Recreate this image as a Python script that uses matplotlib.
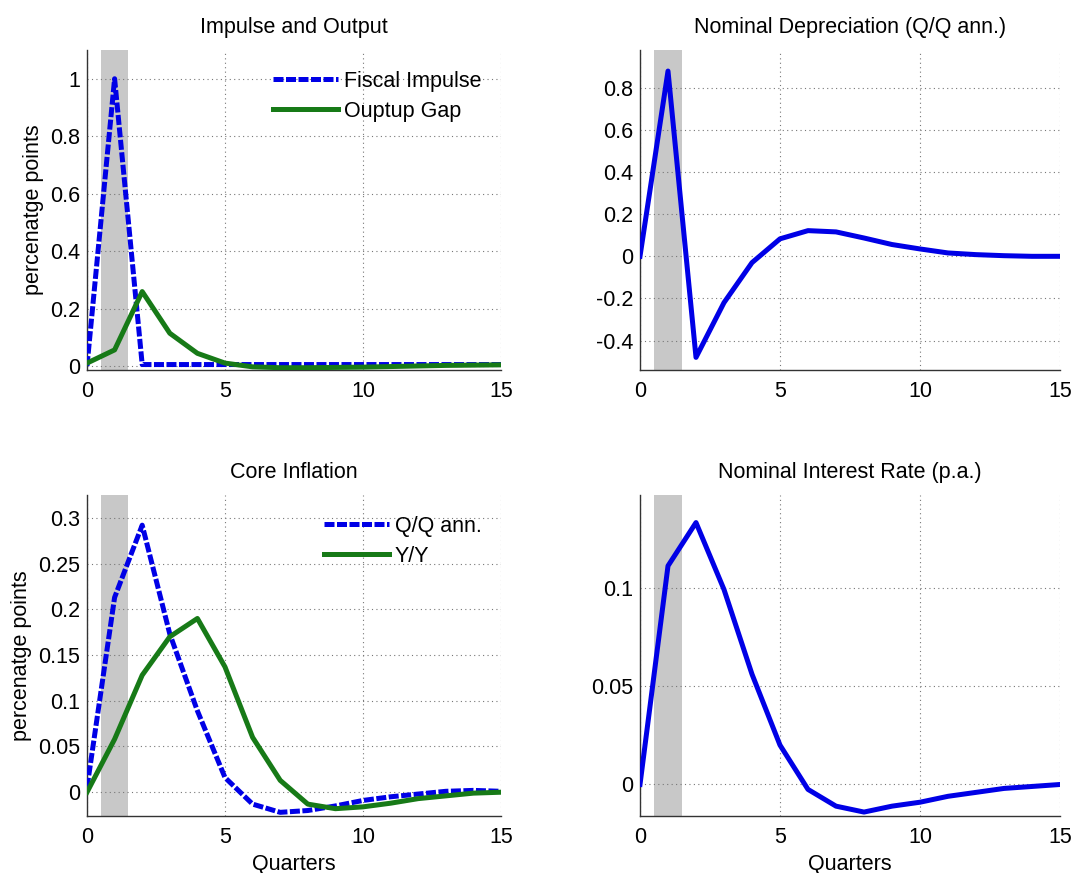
import matplotlib
matplotlib.use("Agg")
import matplotlib.pyplot as plt
import numpy as np

plt.rcParams['font.family'] = ['Liberation Sans', 'DejaVu Sans']

quarters = list(range(16))

fiscal_impulse = [0.0, 1.0, 0.005, 0.005, 0.005, 0.005, 0.005, 0.005, 0.005, 0.005, 0.005, 0.005, 0.005, 0.005, 0.005, 0.005]
output_gap = [0.01, 0.056, 0.259, 0.114, 0.044, 0.01, -0.003, -0.006, -0.006, -0.005, -0.004, -0.002, 0.0, 0.002, 0.003, 0.004]

nominal_depr = [0.0, 0.88, -0.48, -0.22, -0.03, 0.083, 0.122, 0.116, 0.087, 0.056, 0.035, 0.016, 0.008, 0.003, 0.0, 0.0]

core_qq = [0.005, 0.213, 0.292, 0.173, 0.089, 0.016, -0.013, -0.022, -0.02, -0.015, -0.009, -0.005, -0.002, 0.001, 0.002, 0.001]
core_yy = [0.0, 0.058, 0.128, 0.17, 0.19, 0.137, 0.06, 0.013, -0.013, -0.018, -0.016, -0.012, -0.007, -0.004, -0.001, 0.0]

interest = [0.0, 0.111, 0.133, 0.099, 0.056, 0.02, -0.0025, -0.011, -0.014, -0.011, -0.009, -0.006, -0.004, -0.002, -0.001, 0.0]

titles = ["Impulse and Output", "Nominal Depreciation (Q/Q ann.)",
          "Core Inflation", "Nominal Interest Rate (p.a.)"]

BLUE = '#0000e6'
GREEN = '#177a17'
SHADE = '#c8c8c8'
FS = 15.5
LW = 3.6
DASH = (2.0, 0.5)

W, H = 1071, 873
fig = plt.figure(figsize=(W / 100, H / 100), dpi=100)

def ax_at(l, t, r, b):
    return fig.add_axes([l / W, 1 - b / H, (r - l) / W, (b - t) / H])

ax1 = ax_at(87, 50, 501, 370)
ax2 = ax_at(640, 50, 1060, 370)
ax3 = ax_at(87, 495, 501, 816)
ax4 = ax_at(640, 495, 1060, 816)

ylims = [(-0.014, 1.1), (-0.54, 0.98), (-0.026, 0.325), (-0.016, 0.147)]
yticks = [[0, 0.2, 0.4, 0.6, 0.8, 1], [-0.4, -0.2, 0, 0.2, 0.4, 0.6, 0.8],
          [0, 0.05, 0.1, 0.15, 0.2, 0.25, 0.3], [0, 0.05, 0.1]]
ytl = [["0", "0.2", "0.4", "0.6", "0.8", "1"],
       ["-0.4", "-0.2", "0", "0.2", "0.4", "0.6", "0.8"],
       ["0", "0.05", "0.1", "0.15", "0.2", "0.25", "0.3"],
       ["0", "0.05", "0.1"]]

axes = [ax1, ax2, ax3, ax4]
for i, ax in enumerate(axes):
    ax.axvspan(0.5, 1.5, color=SHADE, zorder=0, lw=0)
    ax.set_xlim(0, 15)
    ax.set_ylim(*ylims[i])
    ax.set_xticks([0, 5, 10, 15])
    ax.set_yticks(yticks[i])
    ax.set_yticklabels(ytl[i])
    ax.grid(True, linestyle=(0, (1, 3)), color='#777777', linewidth=0.8)
    ax.set_axisbelow(True)
    for s in ['top', 'right']:
        ax.spines[s].set_visible(False)
    for s in ['left', 'bottom']:
        ax.spines[s].set_linewidth(1.0)
        ax.spines[s].set_color('#333333')
    ax.tick_params(axis='y', labelsize=FS, length=0, pad=5)
    ax.tick_params(axis='x', labelsize=FS, length=0, pad=8)
    ax.set_title(titles[i], fontsize=FS, pad=12)

leg_kw = dict(loc='upper right', frameon=False, fontsize=FS,
              handlelength=3.0, handletextpad=0.3, labelspacing=0.4, borderaxespad=0.2)

ax1.plot(quarters, fiscal_impulse, color=BLUE, lw=LW, dashes=DASH, label='Fiscal Impulse', zorder=3)
ax1.plot(quarters, output_gap, color=GREEN, lw=LW, label='Ouptup Gap', zorder=3)
ax1.set_ylabel('percenatge points', fontsize=FS, labelpad=4)
ax1.legend(bbox_to_anchor=(0.985, 0.975), **leg_kw)

ax2.plot(quarters, nominal_depr, color=BLUE, lw=LW, zorder=3)

ax3.plot(quarters, core_qq, color=BLUE, lw=LW, dashes=DASH, label='Q/Q ann.', zorder=3)
ax3.plot(quarters, core_yy, color=GREEN, lw=LW, label='Y/Y', zorder=3)
ax3.set_ylabel('percenatge points', fontsize=FS, labelpad=4)
ax3.set_xlabel('Quarters', fontsize=FS, labelpad=4)
ax3.legend(bbox_to_anchor=(0.985, 0.975), **leg_kw)

ax4.plot(quarters, interest, color=BLUE, lw=LW, zorder=3)
ax4.set_xlabel('Quarters', fontsize=FS, labelpad=4)

fig.savefig('out.png', dpi=100)
